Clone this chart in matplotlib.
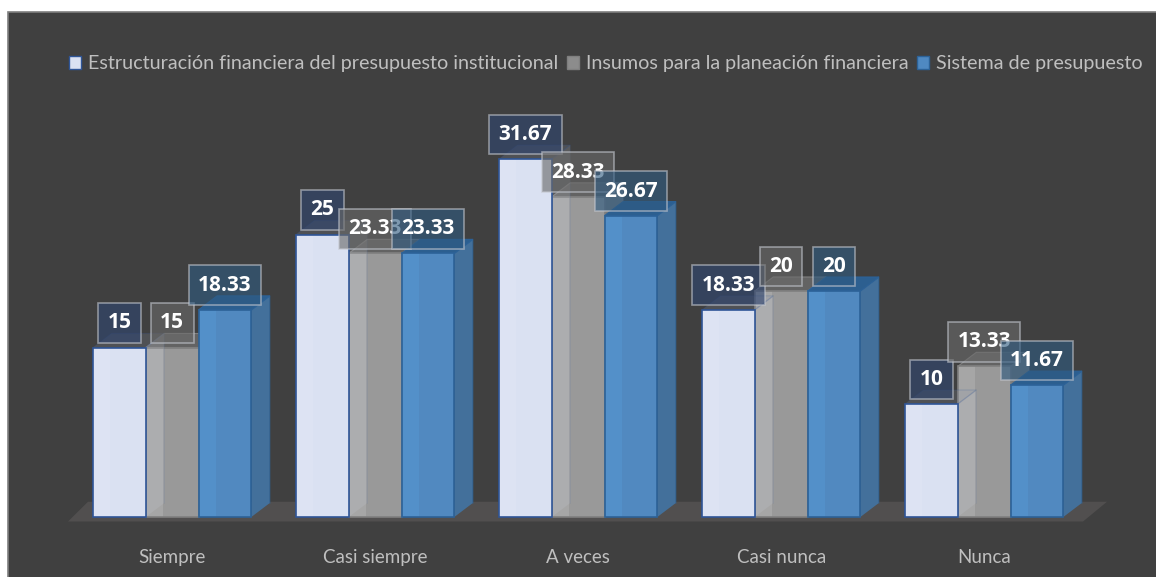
import matplotlib
matplotlib.use("Agg")
import matplotlib.pyplot as plt
from matplotlib.patches import Patch, Rectangle

categorias = ["Siempre", "Casi siempre", "A veces", "Casi nunca", "Nunca"]
estructuracion = [15, 25, 31.67, 18.33, 10]
insumos = [15, 23.33, 28.33, 20, 13.33]
sistema = [18.33, 23.33, 26.67, 20, 11.67]
etiquetas = ["Estructuración financiera del presupuesto institucional",
             "Insumos para la planeación financiera",
             "Sistema de presupuesto"]

W, H = 1156, 577
GRIS_TEXTO = "#bfbfbf"
FONDO = "#404040"
PX_X = 203  # pixeles por categoria
PX_Y = 11.3  # pixeles por unidad
ANCHO = 0.26  # ancho de barra en unidades de categoria
DX = 18.5 / PX_X  # profundidad 3D
DY = 14 / PX_Y

plt.rcParams["font.family"] = ["Lato", "DejaVu Sans"]

fig = plt.figure(figsize=(W / 100, H / 100), dpi=100, facecolor="white")
fig.patches.append(Rectangle((8 / W, -0.01), 1.01, (H - 12) / H + 0.01, transform=fig.transFigure,
                             facecolor=FONDO, edgecolor="#7f7f7f", linewidth=1.2, zorder=-1))

ax = fig.add_axes([0, 0, 1, 1])
ax.set_xlim(-93 / PX_X, (W - 93) / PX_X)
ax.set_ylim(-(H - 517) / PX_Y, 517 / PX_Y)
ax.axis("off")

# piso
ax.fill([-25 / PX_X, -5 / PX_X, 1014 / PX_X, 990 / PX_X], [-0.4, 1.35, 1.35, -0.4],
        color="#514f4f", lw=0, zorder=1)


def barra(x, v, frente, banda, lado, tapa, borde, z, alfa_lado=1.0):
    x0, x1 = x, x + ANCHO
    ax.fill([x1, x1 + DX, x1 + DX, x1], [0, DY, v + DY, v], color=lado, alpha=alfa_lado, lw=0, zorder=z)
    ax.plot([x1, x1 + DX, x1 + DX], [v, v + DY, DY], color=borde, alpha=alfa_lado * 0.5, lw=1, zorder=z)
    ax.fill([x0, x1, x1 + DX, x0 + DX], [v, v, v + DY, v + DY], facecolor=tapa, edgecolor=borde,
            alpha=alfa_lado, lw=0.8, zorder=z)
    ax.bar(x0, v, ANCHO, align="edge", color=frente, linewidth=0, zorder=z + 0.1)
    ax.bar(x0, v, ANCHO * 0.33, align="edge", color=banda, linewidth=0, zorder=z + 0.2)
    ax.bar(x0, v, ANCHO, align="edge", fill=False, edgecolor=borde, linewidth=1.2, zorder=z + 0.3)


def rotulo(x, v, fondo, z):
    ax.annotate(f"{v:g}", (x + ANCHO / 2, v), xytext=(0, 19.5), textcoords="offset points",
                ha="center", va="center_baseline", color="white", fontsize=15, fontweight="bold",
                fontfamily="Open Sans", zorder=z,
                bbox=dict(boxstyle="square,pad=0.45", facecolor=fondo, edgecolor="#c3c7cf", alpha=0.62, linewidth=1.2))


for i in range(len(categorias)):
    # orden: gris, blanco, azul, como se ve en el original
    barra(i + ANCHO, insumos[i], "#999999", "#a6a6a6", "#7a7a7a", "#636363", "#7f7f7f", 3)
    barra(i, estructuracion[i], "#dae1f2", "#dde3f3", "#c6cad4", "#8f97ad", "#2f5597", 4, alfa_lado=0.2)
    barra(i + 2 * ANCHO, sistema[i], "#5189c0", "#5390c9", "#43709b", "#2c5f90", "#2c6298", 5)
    ax.text(i + 1.5 * ANCHO, -3.55, categorias[i], ha="center", va="center", color=GRIS_TEXTO, fontsize=13.5, zorder=8)

for i in range(len(categorias)):
    rotulo(i, estructuracion[i], "#2f4570", 10)
    rotulo(i + ANCHO, insumos[i], "#6a6a6a", 11)
    rotulo(i + 2 * ANCHO, sistema[i], "#2f5a80", 12)

handles = [Patch(facecolor="#dae1f2", edgecolor="#2f5597"),
           Patch(facecolor="#8c8c8c", edgecolor="#7f7f7f"),
           Patch(facecolor="#4f89c2", edgecolor="#2c6298")]
ax.legend(handles, etiquetas, loc="center left", bbox_to_anchor=(69 / W, 1 - 64 / H), ncol=3, frameon=False,
          fontsize=14.2, labelcolor=GRIS_TEXTO, handlelength=0.6, handleheight=0.6, handletextpad=0.35,
          columnspacing=0.45, borderpad=0, borderaxespad=0)

fig.savefig("out.png", dpi=100, facecolor="white")
